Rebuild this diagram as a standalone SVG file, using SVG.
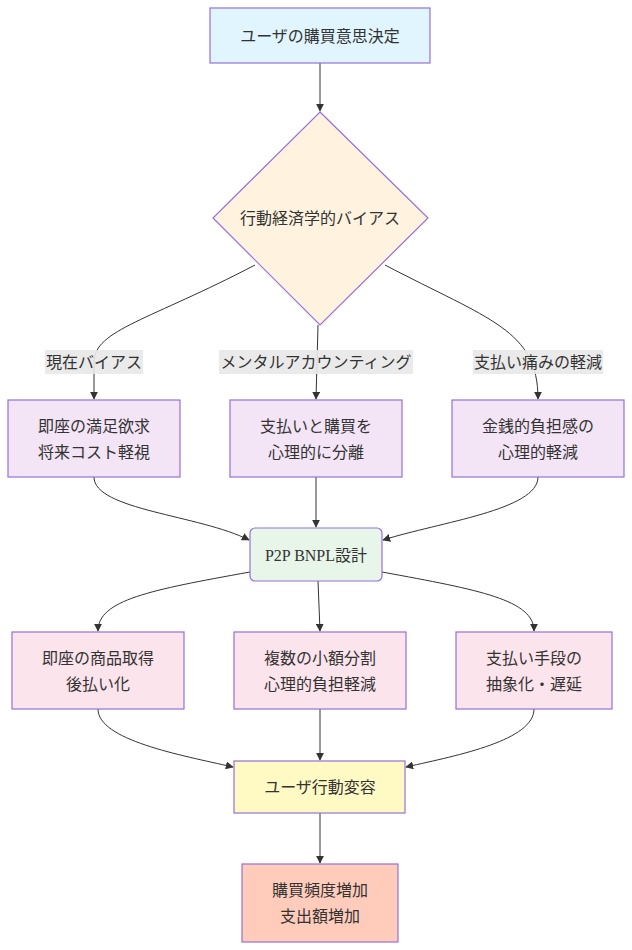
<svg xmlns="http://www.w3.org/2000/svg" width="632" height="950" viewBox="0 0 632 950">
<defs>
<marker id="ah" viewBox="0 0 10 10" refX="9" refY="5" markerWidth="8" markerHeight="8" orient="auto-start-reverse" markerUnits="userSpaceOnUse"><path d="M0,0 L10,5 L0,10 z" fill="#333"/></marker>
<style>
text{font-family:"Liberation Serif","Noto Sans CJK JP",serif;font-size:16px;fill:#333;text-anchor:middle;dominant-baseline:central}
.n{stroke:#9370db;stroke-width:1.2}
.e{fill:none;stroke:#333;stroke-width:1;marker-end:url(#ah)}
.lb{fill:#e8e8e8;opacity:0.9}
</style>
</defs>
<rect width="632" height="950" fill="#fff"/>
<g id="connectors">
<path class="e" d="M320,63 L320,111"/>
<path class="e" d="M255,265 C150,320 94,330 94,362 L94,399"/>
<path class="e" d="M318,325 L316,399"/>
<path class="e" d="M385,265 C490,320 538,330 538,399"/>
<path class="e" d="M94,477 C94,510 200,515 249,540"/>
<path class="e" d="M316,477 L316,527"/>
<path class="e" d="M538,477 C538,510 440,522 383,540"/>
<path class="e" d="M250,572 C150,590 98,600 98,631"/>
<path class="e" d="M318,581 L320,631"/>
<path class="e" d="M382,572 C480,590 534,600 534,631"/>
<path class="e" d="M98,709 C98,740 180,755 233,767"/>
<path class="e" d="M320,709 L320,760"/>
<path class="e" d="M534,709 C534,740 460,755 406,767"/>
<path class="e" d="M320,813 L320,863"/>
</g>
<g id="edge-labels">
<rect class="lb" x="45" y="350" width="98" height="24"/><text x="94" y="362">現在バイアス</text>
<rect class="lb" x="219" y="350" width="194" height="24"/><text x="316" y="362">メンタルアカウンティング</text>
<rect class="lb" x="473" y="350" width="130" height="24"/><text x="538" y="362">支払い痛みの軽減</text>
</g>
<g id="n1"><rect class="n" x="210" y="8" width="220" height="55" fill="#e1f5fe"/><text x="320" y="36">ユーザの購買意思決定</text></g>
<g id="n2"><polygon class="n" points="320,112 428,218 320,325 213,218" fill="#fff3e0"/><text x="320" y="218">行動経済学的バイアス</text></g>
<g id="n3"><rect class="n" x="8" y="400" width="172" height="77" fill="#f3e5f5"/><text x="94" y="426">即座の満足欲求</text><text x="94" y="452">将来コスト軽視</text></g>
<g id="n4"><rect class="n" x="230" y="400" width="172" height="77" fill="#f3e5f5"/><text x="316" y="426">支払いと購買を</text><text x="316" y="452">心理的に分離</text></g>
<g id="n5"><rect class="n" x="452" y="400" width="172" height="77" fill="#f3e5f5"/><text x="538" y="426">金銭的負担感の</text><text x="538" y="452">心理的軽減</text></g>
<g id="n6"><rect class="n" x="250" y="528" width="132" height="53" rx="5" fill="#e8f5e9" stroke-width="2"/><text x="316" y="555">P2P BNPL設計</text></g>
<g id="n7"><rect class="n" x="12" y="632" width="172" height="77" fill="#fce4ec"/><text x="98" y="658">即座の商品取得</text><text x="98" y="684">後払い化</text></g>
<g id="n8"><rect class="n" x="234" y="632" width="172" height="77" fill="#fce4ec"/><text x="320" y="658">複数の小額分割</text><text x="320" y="684">心理的負担軽減</text></g>
<g id="n9"><rect class="n" x="456" y="632" width="156" height="77" fill="#fce4ec"/><text x="534" y="658">支払い手段の</text><text x="534" y="684">抽象化・遅延</text></g>
<g id="n10"><rect class="n" x="234" y="761" width="171" height="52" fill="#fff9c4"/><text x="320" y="787">ユーザ行動変容</text></g>
<g id="n11"><rect class="n" x="242" y="864" width="156" height="78" fill="#ffccbc"/><text x="320" y="890">購買頻度増加</text><text x="320" y="916">支出額増加</text></g>
</svg>
